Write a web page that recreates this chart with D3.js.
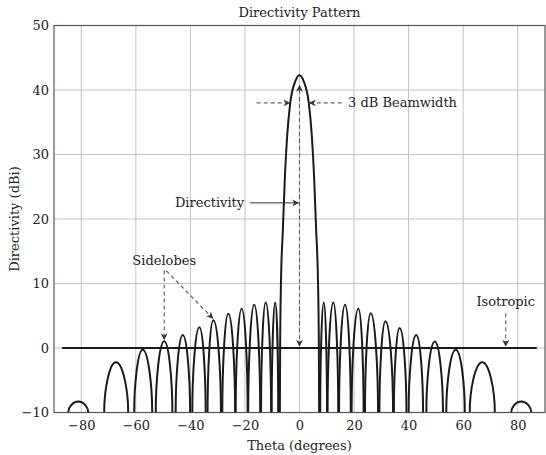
<!DOCTYPE html>
<html>
<head>
<meta charset="utf-8">
<script src="https://cdnjs.cloudflare.com/ajax/libs/d3/7.8.5/d3.min.js"></script>
<style>
  body { margin: 0; background: #fff; }
  text { font-family: "DejaVu Serif", serif; fill: #222; }
</style>
</head>
<body>
<div id="chart"></div>
<script>
// sidelobes, left to right: base angles where they leave the -10 dB floor, peak angle and peak value
var lobeStart = [-84.8, -71.6, -60.6, -52.7, -45.4, -39.3, -33.7, -28.3, -23.4, -18.8, -14.1, -10.2,
                 7.6, 10.3, 14.5, 19.1, 24.0, 29.3, 34.6, 40.0, 46.5, 53.8, 62.4, 77.6];
var lobePeak  = [-81.1, -67.3, -57.5, -49.6, -42.8, -36.7, -31.6, -26.1, -21.2, -16.6, -12.4, -8.9,
                 8.9, 12.4, 16.7, 21.6, 26.1, 31.5, 36.7, 42.8, 49.6, 57.3, 67.0, 81.3];
var lobeEnd   = [-77.4, -62.8, -54.0, -46.6, -40.1, -34.4, -28.8, -23.6, -19.0, -14.4, -10.4, -7.8,
                 10.1, 14.2, 18.8, 23.5, 28.8, 34.3, 39.2, 45.3, 52.6, 60.6, 71.6, 85.0];
var lobeDir   = [-8.3, -2.2, -0.26, 1.05, 2.0, 3.2, 4.3, 5.3, 6.1, 6.7, 7.05, 7.05,
                 7.05, 7.05, 6.7, 6.1, 5.4, 4.15, 3.1, 2.0, 1.0, -0.26, -2.2, -8.3];

// main beam
var mainTheta = [-7.2, -7.1, -6.8, -6.1, -5.4, -4.5, -3.4, -1.6, 0, 1.6, 3.4, 4.5, 5.4, 6.1, 6.8, 7.1, 7.2];
var mainDir   = [-10, 0, 10, 18.3, 26, 33, 38, 41.3, 42.3, 41.3, 38, 33, 26, 18.3, 10, 0, -10];

// isotropic reference level
var isoTheta = [-87, 87];
var isoDir = 0;

var xTicks = [-80, -60, -40, -20, 0, 20, 40, 60, 80];
var yTicks = [-10, 0, 10, 20, 30, 40, 50];

var margin = {top: 25.5, right: 1, bottom: 42.5, left: 54};
var W = 546, H = 455;
var width = W - margin.left - margin.right;
var height = H - margin.top - margin.bottom;

var svg = d3.select("#chart").append("svg")
    .attr("width", W)
    .attr("height", H);

var defs = svg.append("defs");
defs.append("clipPath").attr("id", "plotclip")
    .append("rect").attr("width", width).attr("height", height);
defs.append("marker")
    .attr("id", "head")
    .attr("viewBox", "0 0 10 10")
    .attr("refX", 9).attr("refY", 5)
    .attr("markerWidth", 7).attr("markerHeight", 7)
    .attr("markerUnits", "userSpaceOnUse")
    .attr("orient", "auto-start-reverse")
    .append("path")
    .attr("d", "M0,0 L10,5 L0,10 L3,5 z")
    .attr("fill", "#333");

var g = svg.append("g")
    .attr("transform", "translate(" + margin.left + "," + margin.top + ")");

var x = d3.scaleLinear().domain([-90, 90]).range([0, width]);
var y = d3.scaleLinear().domain([-10, 50]).range([height, 0]);

// grid
g.append("g").selectAll("line.vg")
    .data(xTicks).enter().append("line")
    .attr("x1", d => x(d)).attr("x2", d => x(d))
    .attr("y1", 0).attr("y2", height)
    .attr("stroke", "#c4c4c4").attr("stroke-width", 1);
g.append("g").selectAll("line.hg")
    .data(yTicks).enter().append("line")
    .attr("x1", 0).attr("x2", width)
    .attr("y1", d => y(d)).attr("y2", d => y(d))
    .attr("stroke", "#c4c4c4").attr("stroke-width", 1);

// frame
g.append("rect")
    .attr("width", width).attr("height", height)
    .attr("fill", "none").attr("stroke", "#555").attr("stroke-width", 1.2);

// axes
var xAxis = g.append("g")
    .attr("transform", "translate(0," + height + ")")
    .call(d3.axisBottom(x).tickValues(xTicks).tickSize(0).tickPadding(8));
var yAxis = g.append("g")
    .call(d3.axisLeft(y).tickValues(yTicks).tickSize(0).tickPadding(5));
[xAxis, yAxis].forEach(function(a) {
    a.select(".domain").remove();
    a.selectAll("text").attr("font-size", 13).attr("font-family", "DejaVu Serif").attr("fill", "#222");
});

// titles
svg.append("text")
    .attr("x", margin.left + x(0)).attr("y", 16.5)
    .attr("text-anchor", "middle").attr("font-size", 13)
    .text("Directivity Pattern");
svg.append("text")
    .attr("x", margin.left + x(0)).attr("y", 450)
    .attr("text-anchor", "middle").attr("font-size", 13)
    .text("Theta (degrees)");
svg.append("text")
    .attr("transform", "translate(14," + (margin.top + height / 2) + ") rotate(-90)")
    .attr("text-anchor", "middle").attr("dy", "0.35em").attr("font-size", 13)
    .text("Directivity (dBi)");

var plot = g.append("g").attr("clip-path", "url(#plotclip)");

// isotropic line
plot.append("line")
    .attr("x1", x(isoTheta[0])).attr("x2", x(isoTheta[1]))
    .attr("y1", y(isoDir)).attr("y2", y(isoDir))
    .attr("stroke", "#1a1a1a").attr("stroke-width", 2);

// sidelobes as arches between their base points
plot.selectAll("path.lobe")
    .data(lobePeak).enter().append("path")
    .attr("class", "lobe")
    .attr("d", function(d, i) {
        var xl = x(lobeStart[i]), xp = x(d), xr = x(lobeEnd[i]);
        var yb = y(-10), yp = y(lobeDir[i]);
        var p = d3.path();
        p.moveTo(xl, yb);
        p.bezierCurveTo(xl, yb + (yp - yb) * 0.45, xp - (xp - xl) * 0.55, yp, xp, yp);
        p.bezierCurveTo(xp + (xr - xp) * 0.55, yp, xr, yb + (yp - yb) * 0.45, xr, yb);
        return p.toString();
    })
    .attr("fill", "none").attr("stroke", "#1a1a1a").attr("stroke-width", 2);

// main lobe
plot.append("path")
    .datum(mainTheta.map((t, i) => [t, mainDir[i]]))
    .attr("d", d3.line().x(d => x(d[0])).y(d => y(d[1])).curve(d3.curveMonotoneX))
    .attr("fill", "none").attr("stroke", "#1a1a1a").attr("stroke-width", 2);

// annotations
var ann = g.append("g");
function arrow(x1, y1, x2, y2, dashed, both) {
    var l = ann.append("line")
        .attr("x1", x(x1)).attr("y1", y(y1))
        .attr("x2", x(x2)).attr("y2", y(y2))
        .attr("stroke", dashed ? "#666" : "#333")
        .attr("stroke-width", dashed ? 1.2 : 1)
        .attr("marker-end", "url(#head)");
    if (dashed) l.attr("stroke-dasharray", "4,3");
    if (both) l.attr("marker-start", "url(#head)");
}
function label(tx, ty, s, anchor) {
    ann.append("text")
        .attr("x", x(tx)).attr("y", y(ty))
        .attr("dy", "0.35em").attr("text-anchor", anchor)
        .attr("font-size", 13).text(s);
}

// directivity: dashed from isotropic level up to the peak
arrow(0, 0.3, 0, 40.7, true, true);
arrow(-18.1, 22.5, -0.4, 22.5, false, false);
label(-20.3, 22.5, "Directivity", "end");

// 3 dB beamwidth
arrow(-15.7, 38, -3.6, 38, true, false);
arrow(15.5, 38, 3.7, 38, true, false);
label(17.8, 38, "3 dB Beamwidth", "start");

// sidelobes
label(-49.6, 13.6, "Sidelobes", "middle");
arrow(-49.6, 12, -49.6, 1.3, true, false);
arrow(-48.9, 12, -31.8, 4.6, true, false);

// isotropic
label(75.6, 7.2, "Isotropic", "middle");
arrow(75.6, 5.4, 75.6, 0.3, true, false);
</script>
</body>
</html>
